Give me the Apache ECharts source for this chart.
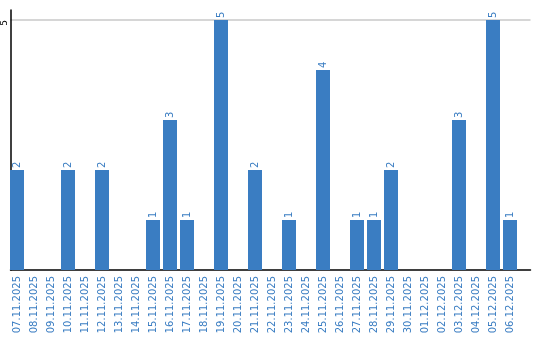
<!DOCTYPE html>
<html><head><meta charset="utf-8">
<script src="https://cdn.jsdelivr.net/npm/echarts@6/dist/echarts.min.js"></script>
<style>html,body{margin:0;padding:0;background:#fff}#c{width:540px;height:340px}</style>
</head><body><div id="c"></div>
<script>
var categories = ["07.11.2025","08.11.2025","09.11.2025","10.11.2025","11.11.2025","12.11.2025","13.11.2025","14.11.2025","15.11.2025","16.11.2025","17.11.2025","18.11.2025","19.11.2025","20.11.2025","21.11.2025","22.11.2025","23.11.2025","24.11.2025","25.11.2025","26.11.2025","27.11.2025","28.11.2025","29.11.2025","30.11.2025","01.12.2025","02.12.2025","03.12.2025","04.12.2025","05.12.2025","06.12.2025"];
var values = [2,0,0,2,0,2,0,0,1,3,1,0,5,0,2,0,1,0,4,0,1,1,2,0,0,0,3,0,5,1];
var yTicks = [5];
var blue = '#3a7dc2';
var chart = echarts.init(document.getElementById('c'), null, {renderer:'canvas'});
chart.setOption({
  animation:false,
  grid:[
    {left:8.5, width:510, top:10, bottom:70, outerBoundsMode:'none', containLabel:false},
    {left:10.5, right:9.5, top:10, bottom:70, outerBoundsMode:'none', containLabel:false}
  ],
  xAxis:[
    {type:'category', gridIndex:0, data:categories, boundaryGap:true,
     axisLine:{show:false}, axisTick:{show:false},
     axisLabel:{interval:0, rotate:90, color:blue, fontFamily:'DejaVu Sans', fontSize:10, margin:6}},
    {type:'value', gridIndex:1, min:0, max:1,
     axisLine:{show:true, onZero:false, lineStyle:{color:'#000', width:1.5}}, axisTick:{show:false},
     axisLabel:{show:false}, splitLine:{show:false}}
  ],
  yAxis:[
    {type:'value', gridIndex:0, min:0, max:5.2, interval:5, show:false,
     splitLine:{show:false}},
    {type:'value', gridIndex:1, min:0, max:5.2, interval:5,
     axisLine:{show:true, lineStyle:{color:'#000', width:1.5}}, axisTick:{show:false},
     splitLine:{show:true, showMinLine:false, showMaxLine:false, lineStyle:{color:'#c8c8c8', width:1.5}},
     axisLabel:{rotate:90, align:'right', verticalAlign:'bottom', color:'#000', fontFamily:'DejaVu Sans', fontSize:9, margin:1,
       showMaxLabel:false,
       formatter:function(v){return yTicks.indexOf(v)>=0 ? String(v) : '';}}}
  ],
  series:[{type:'bar', xAxisIndex:0, yAxisIndex:0, data:values, barWidth:14, itemStyle:{color:blue},
    label:{show:true, position:'top', rotate:90, align:'left', verticalAlign:'middle', distance:2,
      color:blue, fontFamily:'DejaVu Sans', fontSize:10,
      formatter:function(p){return p.value>0 ? String(p.value) : '';}}}]
});
</script></body></html>
